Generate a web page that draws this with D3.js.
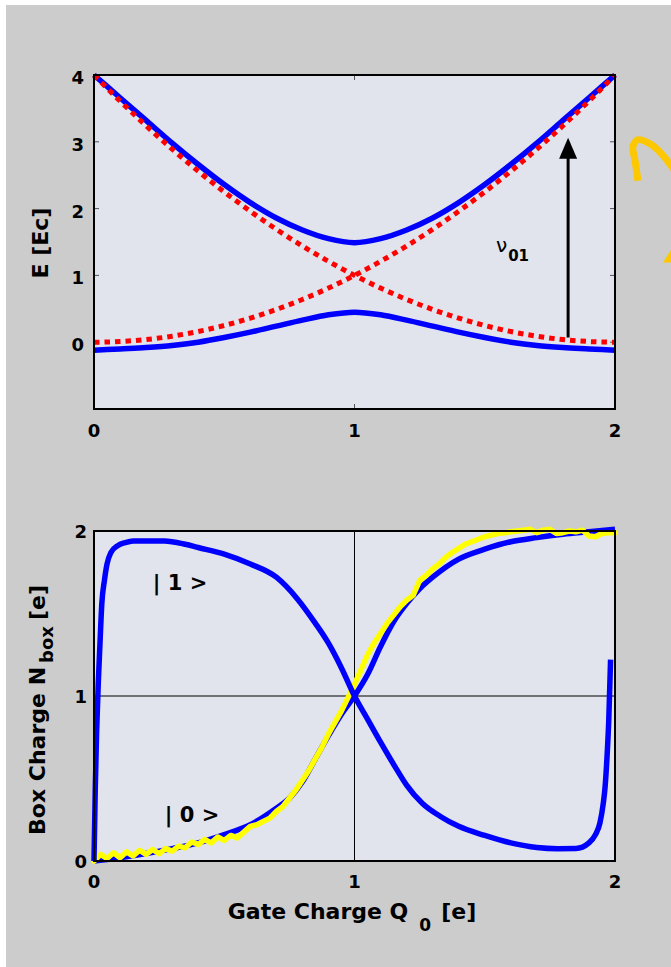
<!DOCTYPE html>
<html>
<head>
<meta charset="utf-8">
<script src="https://cdn.jsdelivr.net/npm/d3@7"></script>
<style>
  html, body { margin: 0; padding: 0; background: #ffffff; }
  svg { display: block; }
  text { font-family: "DejaVu Sans", Verdana, sans-serif; font-weight: bold; fill: #000; }
</style>
</head>
<body>
<script>
// ---------- Energy levels of the charge box vs gate charge ----------
const gateQ = [0, 0.1, 0.2, 0.3, 0.4, 0.5, 0.6, 0.7, 0.8, 0.9, 1.0,
               1.1, 1.2, 1.3, 1.4, 1.5, 1.6, 1.7, 1.8, 1.9, 2.0];
// uncoupled charge parabolas (dotted)
const chargeParabolaA = [0, 0.01, 0.04, 0.09, 0.16, 0.25, 0.36, 0.49, 0.64, 0.81, 1.0,
                         1.21, 1.44, 1.69, 1.96, 2.25, 2.56, 2.89, 3.24, 3.61, 4.0];
const chargeParabolaB = [4.0, 3.61, 3.24, 2.89, 2.56, 2.25, 1.96, 1.69, 1.44, 1.21, 1.0,
                         0.81, 0.64, 0.49, 0.36, 0.25, 0.16, 0.09, 0.04, 0.01, 0];
// coupled eigen-energies (solid)
const upperLevel = [4.0, 3.66, 3.32, 2.98, 2.66, 2.36, 2.09, 1.86, 1.68, 1.55, 1.49,
                    1.55, 1.68, 1.86, 2.09, 2.36, 2.66, 2.98, 3.32, 3.66, 4.0];
const lowerLevel = [-0.12, -0.10, -0.08, -0.05, 0.0, 0.07, 0.15, 0.24, 0.33, 0.41, 0.45,
                    0.41, 0.33, 0.24, 0.15, 0.07, 0.0, -0.05, -0.08, -0.10, -0.12];
const energyTicks = [0, 1, 2, 3, 4];
const gateTicks = [0, 1, 2];
// transition arrow nu_01
const transitionQ = 1.82;
const transitionFrom = 0.07;
const transitionTo = 3.06;
// hand-drawn marker to the right of the energy plot (in energy-plot units)
const scribbleQ = [2.088, 2.077, 2.069, 2.088, 2.134, 2.179, 2.229];
const scribbleE = [2.418, 2.716, 2.925, 3.03, 2.97, 2.82, 2.567];
const wedgeQ = [2.184, 2.235, 2.235];
const wedgeE = [1.194, 1.50, 1.194];

// ---------- Box charge vs gate charge ----------
const excitedQ = [0, 0.005, 0.01, 0.017, 0.023, 0.03, 0.04, 0.05, 0.065, 0.09, 0.12, 0.15, 0.2, 0.27,
                  0.35, 0.4, 0.5, 0.6, 0.7, 0.78, 0.85, 0.9, 0.95, 1.0, 1.05, 1.1, 1.16, 1.2, 1.26,
                  1.33, 1.4, 1.5, 1.6, 1.7, 1.78, 1.85, 1.9, 1.925, 1.942, 1.955, 1.962, 1.97, 1.976, 1.983];
const excitedN = [0, 0.45, 0.78, 1.1, 1.32, 1.56, 1.7, 1.8, 1.87, 1.91, 1.93, 1.94, 1.94, 1.94,
                  1.92, 1.9, 1.86, 1.8, 1.72, 1.59, 1.44, 1.32, 1.17, 1.0, 0.86, 0.72, 0.56, 0.46, 0.35,
                  0.27, 0.21, 0.155, 0.11, 0.082, 0.075, 0.076, 0.11, 0.16, 0.23, 0.35, 0.45, 0.65, 0.85, 1.22];
const groundQ = [0, 0.1, 0.2, 0.3, 0.4, 0.5, 0.6, 0.7, 0.75, 0.8, 0.85, 0.9, 0.95, 1.0,
                 1.05, 1.1, 1.15, 1.2, 1.25, 1.3, 1.4, 1.5, 1.6, 1.7, 1.8, 1.9, 2.0];
const groundN = [0, 0.02, 0.045, 0.075, 0.11, 0.16, 0.22, 0.32, 0.38, 0.48, 0.62, 0.76, 0.89, 1.0,
                 1.13, 1.30, 1.45, 1.56, 1.65, 1.72, 1.83, 1.89, 1.935, 1.96, 1.98, 1.995, 2.01];
// measured box charge (step 0.025 in gate charge)
const measuredN = [0.0, 0.04, 0.015, 0.05, 0.02, 0.055, 0.03, 0.065, 0.04, 0.07,
                   0.045, 0.075, 0.06, 0.09, 0.08, 0.115, 0.1, 0.13, 0.11, 0.145,
                   0.125, 0.155, 0.14, 0.175, 0.21, 0.22, 0.24, 0.26, 0.3, 0.33,
                   0.38, 0.43, 0.49, 0.55, 0.62, 0.69, 0.77, 0.84, 0.91, 0.99,
                   1.07, 1.16, 1.25, 1.32, 1.38, 1.44, 1.49, 1.54, 1.58, 1.61,
                   1.70, 1.73, 1.77, 1.80, 1.84, 1.87, 1.895, 1.92, 1.935, 1.95,
                   1.965, 1.975, 1.985, 1.99, 1.995, 2.0, 2.005, 2.01, 1.99, 2.005,
                   2.01, 1.985, 1.99, 2.0, 1.995, 2.005, 1.97, 1.965, 1.985, 1.99, 1.99];
const measuredStep = 0.025;
const chargeTicks = [0, 1, 2];

// ---------- drawing ----------
const W = 671, H = 967;
const svg = d3.select("body").append("svg").attr("width", W).attr("height", H);

svg.append("rect").attr("x", 6).attr("y", 5).attr("width", W - 6).attr("height", H - 5)
   .attr("fill", "#cccccc");

const plotFill = "#e1e4ec";
const x = d3.scaleLinear().domain([0, 2]).range([94, 615]);
const yE = d3.scaleLinear().domain([-1, 4]).range([409, 75]);
const yN = d3.scaleLinear().domain([0, 2]).range([861, 531]);

// ===== energy panel =====
const energyPanel = svg.append("g");
energyPanel.append("rect").attr("x", x(0)).attr("y", yE(4))
   .attr("width", x(2) - x(0)).attr("height", yE(-1) - yE(4)).attr("fill", plotFill);

// inward tick marks
const tickLen = 5;
energyPanel.selectAll(".tl").data(energyTicks.slice(0, 4)).join("line")
   .attr("x1", x(0)).attr("x2", x(0) + tickLen).attr("y1", d => yE(d)).attr("y2", d => yE(d))
   .attr("stroke", "#555").attr("stroke-width", 1);
energyPanel.selectAll(".tr").data(energyTicks.slice(0, 4)).join("line")
   .attr("x1", x(2)).attr("x2", x(2) - tickLen).attr("y1", d => yE(d)).attr("y2", d => yE(d))
   .attr("stroke", "#555").attr("stroke-width", 1);
energyPanel.selectAll(".tb").data([1]).join("line")
   .attr("x1", d => x(d)).attr("x2", d => x(d)).attr("y1", yE(-1)).attr("y2", yE(-1) - tickLen)
   .attr("stroke", "#555").attr("stroke-width", 1);
energyPanel.selectAll(".tt").data([1]).join("line")
   .attr("x1", d => x(d)).attr("x2", d => x(d)).attr("y1", yE(4)).attr("y2", yE(4) + tickLen)
   .attr("stroke", "#555").attr("stroke-width", 1);

const lineE = d3.line().x(d => x(d[0])).y(d => yE(d[1]));
const zipQ = arr => gateQ.map((q, i) => [q, arr[i]]);

[upperLevel, lowerLevel].forEach(vals => {
  energyPanel.append("path").attr("d", lineE.curve(d3.curveMonotoneX)(zipQ(vals)))
     .attr("fill", "none").attr("stroke", "#0000ff").attr("stroke-width", 5.5)
     .attr("stroke-linejoin", "round");
});
[chargeParabolaA, chargeParabolaB].forEach(vals => {
  energyPanel.append("path").attr("d", lineE.curve(d3.curveMonotoneX)(zipQ(vals)))
     .attr("fill", "none").attr("stroke", "#ff0000").attr("stroke-width", 5)
     .attr("stroke-dasharray", "5.5,5");
});

// transition arrow
const headLen = 21, headHalf = 9;
energyPanel.append("line")
   .attr("x1", x(transitionQ)).attr("x2", x(transitionQ))
   .attr("y1", yE(transitionFrom)).attr("y2", yE(transitionTo) + headLen - 1)
   .attr("stroke", "#000").attr("stroke-width", 3);
energyPanel.append("path")
   .attr("d", `M${x(transitionQ)},${yE(transitionTo)} L${x(transitionQ) - headHalf},${yE(transitionTo) + headLen} L${x(transitionQ) + headHalf},${yE(transitionTo) + headLen} Z`)
   .attr("fill", "#000");
const nu = energyPanel.append("text").attr("x", 496).attr("y", 252)
   .style("font-size", "20px").style("font-weight", "normal");
nu.append("tspan").text("ν");
nu.append("tspan").attr("dy", 9).attr("dx", 1).style("font-size", "15px").style("font-weight", "bold").text("01");

// frame
energyPanel.append("rect").attr("x", x(0)).attr("y", yE(4))
   .attr("width", x(2) - x(0)).attr("height", yE(-1) - yE(4))
   .attr("fill", "none").attr("stroke", "#000").attr("stroke-width", 2);

// tick labels
energyPanel.selectAll(".yl").data(energyTicks).join("text")
   .attr("x", 84).attr("y", d => yE(d) + 9).attr("text-anchor", "end")
   .style("font-size", "18px").text(d => d);
energyPanel.selectAll(".xl").data(gateTicks).join("text")
   .attr("x", d => x(d)).attr("y", 437).attr("text-anchor", "middle")
   .style("font-size", "18px").text(d => d);
energyPanel.append("text").attr("transform", "translate(48,243) rotate(-90)")
   .attr("text-anchor", "middle").style("font-size", "22px").text("E [Ec]");

// hand-drawn marker
energyPanel.append("path")
   .attr("d", d3.line().x(d => x(d[0])).y(d => yE(d[1])).curve(d3.curveCatmullRom)(scribbleQ.map((q, i) => [q, scribbleE[i]])))
   .attr("fill", "none").attr("stroke", "#fdc800").attr("stroke-width", 7).attr("stroke-linecap", "butt");
energyPanel.append("path")
   .attr("d", d3.line().x(d => x(d[0])).y(d => yE(d[1]))(wedgeQ.map((q, i) => [q, wedgeE[i]])) + "Z")
   .attr("fill", "#fdc800");

// ===== box charge panel =====
const chargePanel = svg.append("g");
chargePanel.append("rect").attr("x", x(0)).attr("y", yN(2))
   .attr("width", x(2) - x(0)).attr("height", yN(0) - yN(2)).attr("fill", plotFill);
// cross-hair at the degeneracy point
chargePanel.append("line").attr("x1", x(1)).attr("x2", x(1)).attr("y1", yN(0)).attr("y2", yN(2))
   .attr("stroke", "#000").attr("stroke-width", 1);
chargePanel.append("line").attr("x1", x(0)).attr("x2", x(2)).attr("y1", yN(1)).attr("y2", yN(1))
   .attr("stroke", "#000").attr("stroke-width", 1);

const lineN = d3.line().x(d => x(d[0])).y(d => yN(d[1]));
chargePanel.append("path")
   .attr("d", lineN.curve(d3.curveMonotoneX)(groundQ.map((q, i) => [q, groundN[i]])))
   .attr("fill", "none").attr("stroke", "#0000ff").attr("stroke-width", 5.5);
chargePanel.append("path")
   .attr("d", lineN.curve(d3.curveLinear)(measuredN.map((n, i) => [i * measuredStep, n])))
   .attr("fill", "none").attr("stroke", "#ffff00").attr("stroke-width", 5.5)
   .attr("stroke-linejoin", "round").attr("stroke-linecap", "round");
chargePanel.append("path")
   .attr("d", lineN.curve(d3.curveMonotoneX)(excitedQ.map((q, i) => [q, excitedN[i]])))
   .attr("fill", "none").attr("stroke", "#0000ff").attr("stroke-width", 5.5)
   .attr("stroke-linejoin", "round");

chargePanel.append("rect").attr("x", x(0)).attr("y", yN(2))
   .attr("width", x(2) - x(0)).attr("height", yN(0) - yN(2))
   .attr("fill", "none").attr("stroke", "#000").attr("stroke-width", 2);

chargePanel.append("text").attr("x", 180).attr("y", 590).attr("text-anchor", "middle")
   .style("font-size", "21px").text("| 1 >");
chargePanel.append("text").attr("x", 192).attr("y", 822).attr("text-anchor", "middle")
   .style("font-size", "21px").text("| 0 >");

chargePanel.selectAll(".yl").data(chargeTicks).join("text")
   .attr("x", 87).attr("y", d => yN(d) + 7).attr("text-anchor", "end")
   .style("font-size", "18px").text(d => d);
chargePanel.selectAll(".xl").data(gateTicks).join("text")
   .attr("x", d => x(d)).attr("y", 888).attr("text-anchor", "middle")
   .style("font-size", "18px").text(d => d);

const xt = chargePanel.append("text").attr("x", 352).attr("y", 919).attr("text-anchor", "middle")
   .style("font-size", "22px");
xt.append("tspan").text("Gate Charge Q");
xt.append("tspan").attr("dx", 11).attr("dy", 12).style("font-size", "17px").text("0");
xt.append("tspan").attr("dx", 10).attr("dy", -12).text("[e]");

const yt = chargePanel.append("text").attr("transform", "translate(45,710) rotate(-90)")
   .attr("text-anchor", "middle").style("font-size", "22px");
yt.append("tspan").text("Box Charge N");
yt.append("tspan").attr("dx", 4).attr("dy", 8).style("font-size", "18px").text("box");
yt.append("tspan").attr("dx", 6).attr("dy", -8).text("[e]");
</script>
</body>
</html>
